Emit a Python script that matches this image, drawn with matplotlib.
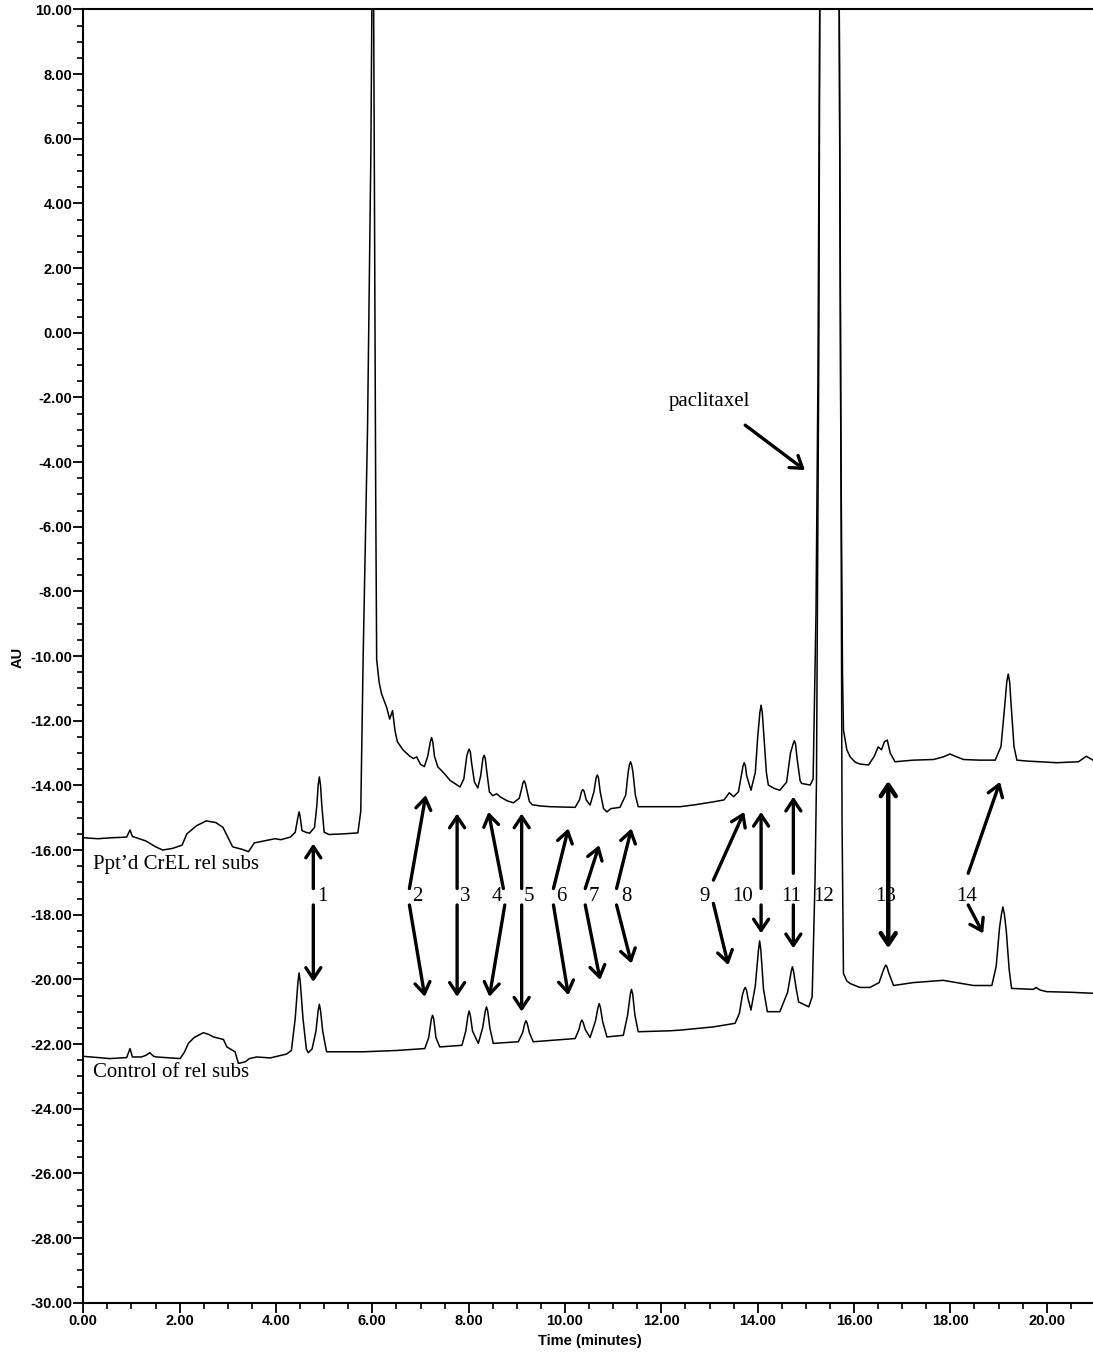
import matplotlib.pyplot as plt
from matplotlib.ticker import MultipleLocator, FormatStrFormatter

# (retention time in min, AU)
upper_pts = [
    (0.00, -15.62), (0.30, -15.65), (0.60, -15.62), (0.90, -15.60), (0.97, -15.38), (1.02, -15.58),
    (1.30, -15.72), (1.50, -15.90), (1.65, -16.00), (1.85, -15.95), (2.05, -15.85), (2.15, -15.50),
    (2.35, -15.25), (2.55, -15.10), (2.75, -15.15), (2.90, -15.30), (3.00, -15.60), (3.10, -15.90),
    (3.30, -15.98), (3.43, -16.05), (3.55, -15.78), (3.75, -15.72), (3.98, -15.65), (4.10, -15.68),
    (4.30, -15.60), (4.40, -15.45), (4.46, -14.95), (4.48, -14.82), (4.50, -14.95), (4.54, -15.40),
    (4.62, -15.45), (4.70, -15.48), (4.80, -15.30), (4.85, -14.60), (4.875, -14.00), (4.90, -13.74),
    (4.925, -14.00), (4.95, -14.60), (5.00, -15.45), (5.10, -15.52), (5.40, -15.50), (5.70, -15.47),
    # big early peak, off scale
    (5.76, -14.80), (5.81, -10.00), (5.90, -3.00), (5.97, 5.60), (5.995, 11.0), (6.025, 11.0),
    (6.04, 5.60), (6.07, -5.00), (6.09, -10.10), (6.14, -10.80), (6.19, -11.16), (6.30, -11.60),
    (6.36, -11.95), (6.42, -11.69), (6.47, -12.30), (6.52, -12.65), (6.64, -12.91), (6.78, -13.10),
    (6.85, -13.17), (6.92, -13.12), (7.00, -13.35), (7.08, -13.42), (7.15, -13.10), (7.205, -12.65),
    (7.23, -12.52), (7.255, -12.65), (7.29, -13.10), (7.36, -13.43), (7.46, -13.58), (7.52, -13.68),
    (7.61, -13.84), (7.72, -13.95), (7.82, -14.05), (7.90, -13.80), (7.96, -13.10), (7.985, -12.97),
    (8.01, -12.88), (8.035, -12.97), (8.06, -13.30), (8.12, -13.90), (8.19, -14.08), (8.25, -13.70),
    (8.295, -13.17), (8.32, -13.07), (8.345, -13.17), (8.37, -13.50), (8.43, -14.20), (8.50, -14.32),
    (8.58, -14.26), (8.66, -14.36), (8.80, -14.48), (8.93, -14.54), (9.05, -14.40), (9.10, -14.10),
    (9.125, -13.93), (9.15, -13.86), (9.175, -13.93), (9.20, -14.10), (9.26, -14.50), (9.32, -14.60),
    (9.50, -14.64), (9.70, -14.66), (10.00, -14.67), (10.21, -14.68), (10.30, -14.45),
    (10.345, -14.18), (10.37, -14.13), (10.395, -14.18), (10.44, -14.45), (10.52, -14.61),
    (10.60, -14.20), (10.645, -13.77), (10.67, -13.68), (10.695, -13.77), (10.73, -14.20),
    (10.80, -14.72), (10.87, -14.82), (10.95, -14.72), (11.14, -14.68), (11.26, -14.30),
    (11.31, -13.60), (11.335, -13.38), (11.36, -13.27), (11.385, -13.38), (11.41, -13.60),
    (11.46, -14.30), (11.52, -14.66), (11.80, -14.66), (12.18, -14.66), (12.39, -14.66),
    (12.70, -14.60), (13.08, -14.51), (13.30, -14.45), (13.41, -14.23), (13.50, -14.35),
    (13.60, -14.20), (13.67, -13.60), (13.695, -13.40), (13.72, -13.30), (13.745, -13.40),
    (13.77, -13.70), (13.86, -14.15), (13.95, -13.60), (14.00, -12.50), (14.045, -11.75),
    (14.07, -11.52), (14.095, -11.75), (14.13, -12.50), (14.18, -13.60), (14.22, -13.99),
    (14.35, -14.10), (14.46, -14.15), (14.60, -13.90), (14.68, -13.00), (14.735, -12.72),
    (14.76, -12.62), (14.785, -12.72), (14.82, -13.20), (14.88, -13.85), (14.91, -13.94),
    (15.09, -13.99), (15.15, -13.80), (15.21, -8.67), (15.25, -1.50),
    # paclitaxel, off scale
    (15.29, 11.0), (15.69, 11.0), (15.72, -2.00), (15.76, -10.50), (15.78, -12.29), (15.85, -12.90),
    (15.92, -13.12), (16.02, -13.28), (16.12, -13.34), (16.30, -13.37), (16.42, -13.10),
    (16.50, -12.81), (16.57, -12.90), (16.63, -12.65), (16.69, -12.60), (16.75, -13.00),
    (16.85, -13.27), (17.00, -13.25), (17.23, -13.22), (17.65, -13.20), (17.85, -13.12),
    (17.99, -13.03), (18.10, -13.10), (18.27, -13.20), (18.60, -13.22), (18.93, -13.22),
    (19.05, -12.80), (19.13, -11.50), (19.17, -10.80), (19.20, -10.56), (19.23, -10.80),
    (19.26, -11.50), (19.32, -12.80), (19.38, -13.22), (19.60, -13.25), (19.86, -13.27),
    (20.20, -13.30), (20.66, -13.27), (20.82, -13.10), (20.96, -13.22),
]

lower_pts = [
    (0.00, -22.38), (0.30, -22.42), (0.55, -22.45), (0.90, -22.42), (0.97, -22.14), (1.02, -22.40),
    (1.21, -22.40), (1.30, -22.35), (1.38, -22.27), (1.46, -22.38), (1.52, -22.40), (1.80, -22.43),
    (2.01, -22.45), (2.10, -22.25), (2.18, -21.98), (2.30, -21.80), (2.49, -21.65), (2.60, -21.70),
    (2.70, -21.78), (2.91, -21.86), (2.98, -22.09), (3.15, -22.24), (3.22, -22.60), (3.36, -22.55),
    (3.45, -22.45), (3.60, -22.40), (3.88, -22.43), (4.22, -22.31), (4.32, -22.20), (4.40, -21.20),
    (4.455, -20.10), (4.48, -19.80), (4.505, -20.10), (4.56, -21.20), (4.63, -22.15), (4.67, -22.27),
    (4.75, -22.15), (4.83, -21.60), (4.875, -20.97), (4.90, -20.77), (4.925, -20.97), (4.97, -21.60),
    (5.05, -22.24), (5.40, -22.24), (5.81, -22.24), (6.50, -22.20), (7.09, -22.14), (7.17, -21.80),
    (7.225, -21.23), (7.25, -21.11), (7.275, -21.23), (7.32, -21.80), (7.40, -22.09), (7.86, -22.04),
    (7.94, -21.60), (7.985, -21.12), (8.01, -20.98), (8.035, -21.12), (8.08, -21.60), (8.20, -21.98),
    (8.29, -21.50), (8.345, -20.98), (8.37, -20.85), (8.395, -20.98), (8.44, -21.50), (8.51, -21.98),
    (9.03, -21.93), (9.12, -21.65), (9.165, -21.36), (9.19, -21.28), (9.215, -21.36), (9.26, -21.65),
    (9.34, -21.93), (10.21, -21.83), (10.29, -21.55), (10.325, -21.33), (10.35, -21.26),
    (10.375, -21.33), (10.42, -21.55), (10.52, -21.80), (10.63, -21.30), (10.685, -20.87),
    (10.71, -20.75), (10.735, -20.87), (10.78, -21.30), (10.87, -21.78), (11.21, -21.73),
    (11.30, -21.10), (11.355, -20.46), (11.38, -20.31), (11.405, -20.46), (11.45, -21.10),
    (11.52, -21.62), (12.18, -21.59), (12.39, -21.57), (13.08, -21.47), (13.53, -21.36),
    (13.62, -21.05), (13.68, -20.50), (13.715, -20.32), (13.74, -20.25), (13.765, -20.32),
    (13.80, -20.60), (13.86, -20.95), (13.95, -20.20), (14.015, -19.10), (14.04, -18.81),
    (14.065, -19.10), (14.12, -20.30), (14.20, -21.00), (14.46, -21.00), (14.62, -20.40),
    (14.695, -19.76), (14.72, -19.61), (14.745, -19.76), (14.80, -20.30), (14.85, -20.70),
    (15.06, -20.85), (15.13, -20.54), (15.19, -16.93), (15.22, -13.83), (15.27, 0.00),
    # paclitaxel, off scale
    (15.29, 11.0), (15.69, 11.0), (15.72, 0.00), (15.75, -15.00), (15.78, -19.82), (15.85, -20.05),
    (15.92, -20.13), (16.12, -20.25), (16.33, -20.25), (16.52, -20.10), (16.60, -19.75),
    (16.635, -19.62), (16.66, -19.56), (16.685, -19.62), (16.72, -19.80), (16.82, -20.19),
    (17.23, -20.10), (17.85, -20.03), (18.48, -20.19), (18.86, -20.19), (18.95, -19.60),
    (19.02, -18.40), (19.06, -17.98), (19.09, -17.76), (19.12, -17.98), (19.16, -18.50),
    (19.22, -19.70), (19.27, -20.28), (19.72, -20.31), (19.78, -20.25), (19.86, -20.33),
    (20.00, -20.38), (20.50, -20.40), (20.96, -20.43),
]

# peak number labels and their arrows (tail near label -> tip at peak)
peak_labels = ["1", "2", "3", "4", "5", "6", "7", "8", "9", "10", "11", "12", "13", "14"]
label_t = [4.96, 6.93, 7.93, 8.59, 9.25, 9.92, 10.60, 11.27, 12.90, 13.69, 14.69, 15.36, 16.66, 18.33]
label_v = -17.45

arrows = [
    ((4.775, -17.19), (4.775, -15.80)), ((4.775, -17.70), (4.775, -20.08)),
    ((6.77, -17.19), (7.11, -14.30)), ((6.77, -17.70), (7.09, -20.54)),
    ((7.76, -17.19), (7.76, -14.87)), ((7.76, -17.70), (7.76, -20.54)),
    ((8.72, -17.19), (8.41, -14.82)), ((8.75, -17.70), (8.43, -20.54)),
    ((9.10, -17.19), (9.10, -14.87)), ((9.10, -17.70), (9.10, -21.00)),
    ((9.76, -17.19), (10.07, -15.33)), ((9.76, -17.70), (10.07, -20.49)),
    ((10.42, -17.19), (10.71, -15.85)), ((10.42, -17.70), (10.73, -20.02)),
    ((11.07, -17.19), (11.38, -15.33)), ((11.07, -17.70), (11.38, -19.51)),
    ((13.08, -16.93), (13.72, -14.82)), ((13.08, -17.65), (13.39, -19.56)),
    ((14.07, -17.19), (14.07, -14.82)), ((14.07, -17.70), (14.07, -18.58)),
    ((14.74, -16.72), (14.74, -14.35)), ((14.74, -17.70), (14.74, -19.04)),
    ((18.37, -16.72), (19.03, -13.89)), ((18.37, -17.70), (18.68, -18.58)),
]
both_way = ((16.71, -13.86), (16.71, -19.04))

upper_t, upper_v = zip(*sorted(upper_pts))
lower_t, lower_v = zip(*sorted(lower_pts))

fig = plt.figure(figsize=(10.93, 13.55), dpi=100)
ax = fig.add_axes([0.0762, 0.0386, 0.9238, 0.9545])

ax.plot(upper_t, upper_v, color="black", lw=1.1, solid_joinstyle="round")
ax.plot(lower_t, lower_v, color="black", lw=1.1, solid_joinstyle="round")

ax.set_xlim(0, 20.96)
ax.set_ylim(-30, 10)
ax.xaxis.set_major_locator(MultipleLocator(2))
ax.xaxis.set_minor_locator(MultipleLocator(0.5))
ax.yaxis.set_major_locator(MultipleLocator(2))
ax.yaxis.set_minor_locator(MultipleLocator(0.5))
ax.xaxis.set_major_formatter(FormatStrFormatter("%.2f"))
ax.yaxis.set_major_formatter(FormatStrFormatter("%.2f"))
ax.tick_params(which="major", direction="out", length=7, width=1.3, pad=1,
               labelsize=10.5)
ax.tick_params(which="minor", direction="out", length=4, width=1.2)
for lab in ax.get_xticklabels() + ax.get_yticklabels():
    lab.set_family("Liberation Sans")
    lab.set_weight("bold")
ax.spines["right"].set_visible(False)
for s in ["left", "bottom", "top"]:
    ax.spines[s].set_linewidth(1.5)

fig.text(590 / 1093, 1 - 1341 / 1355, "Time (minutes)", ha="center", va="center",
         fontsize=10.5, family="Liberation Sans", weight="bold")
fig.text(18 / 1093, 1 - 657 / 1355, "AU", ha="center", va="center", rotation=90,
         fontsize=10.5, family="Liberation Sans", weight="bold")

serif = dict(family="Liberation Serif", fontsize=15, color="black")
ax.text(0.2, -16.44, "Ppt\u2019d CrEL rel subs", ha="left", va="center", **serif)
ax.text(0.2, -22.89, "Control of rel subs", ha="left", va="center", **serif)
ax.text(12.15, -2.14, "paclitaxel", ha="left", va="center", **serif)

head = "->, head_length=0.45, head_width=0.3"
ax.annotate("", xy=(14.98, -4.25), xytext=(13.74, -2.86),
            arrowprops=dict(arrowstyle=head, lw=2.4, color="black",
                            mutation_scale=18, shrinkA=0, shrinkB=0))

for name, t in zip(peak_labels, label_t):
    ax.text(t, label_v, name, ha="center", va="center", **serif)

for tail, tip in arrows:
    ax.annotate("", xy=tip, xytext=tail,
                arrowprops=dict(arrowstyle=head, lw=2.4, color="black",
                                mutation_scale=18, shrinkA=0, shrinkB=0))
ax.annotate("", xy=both_way[1], xytext=both_way[0],
            arrowprops=dict(arrowstyle="<->, head_length=0.45, head_width=0.3",
                            lw=3.2, color="black", mutation_scale=18,
                            shrinkA=0, shrinkB=0))

fig.savefig("out.png", dpi=100)
